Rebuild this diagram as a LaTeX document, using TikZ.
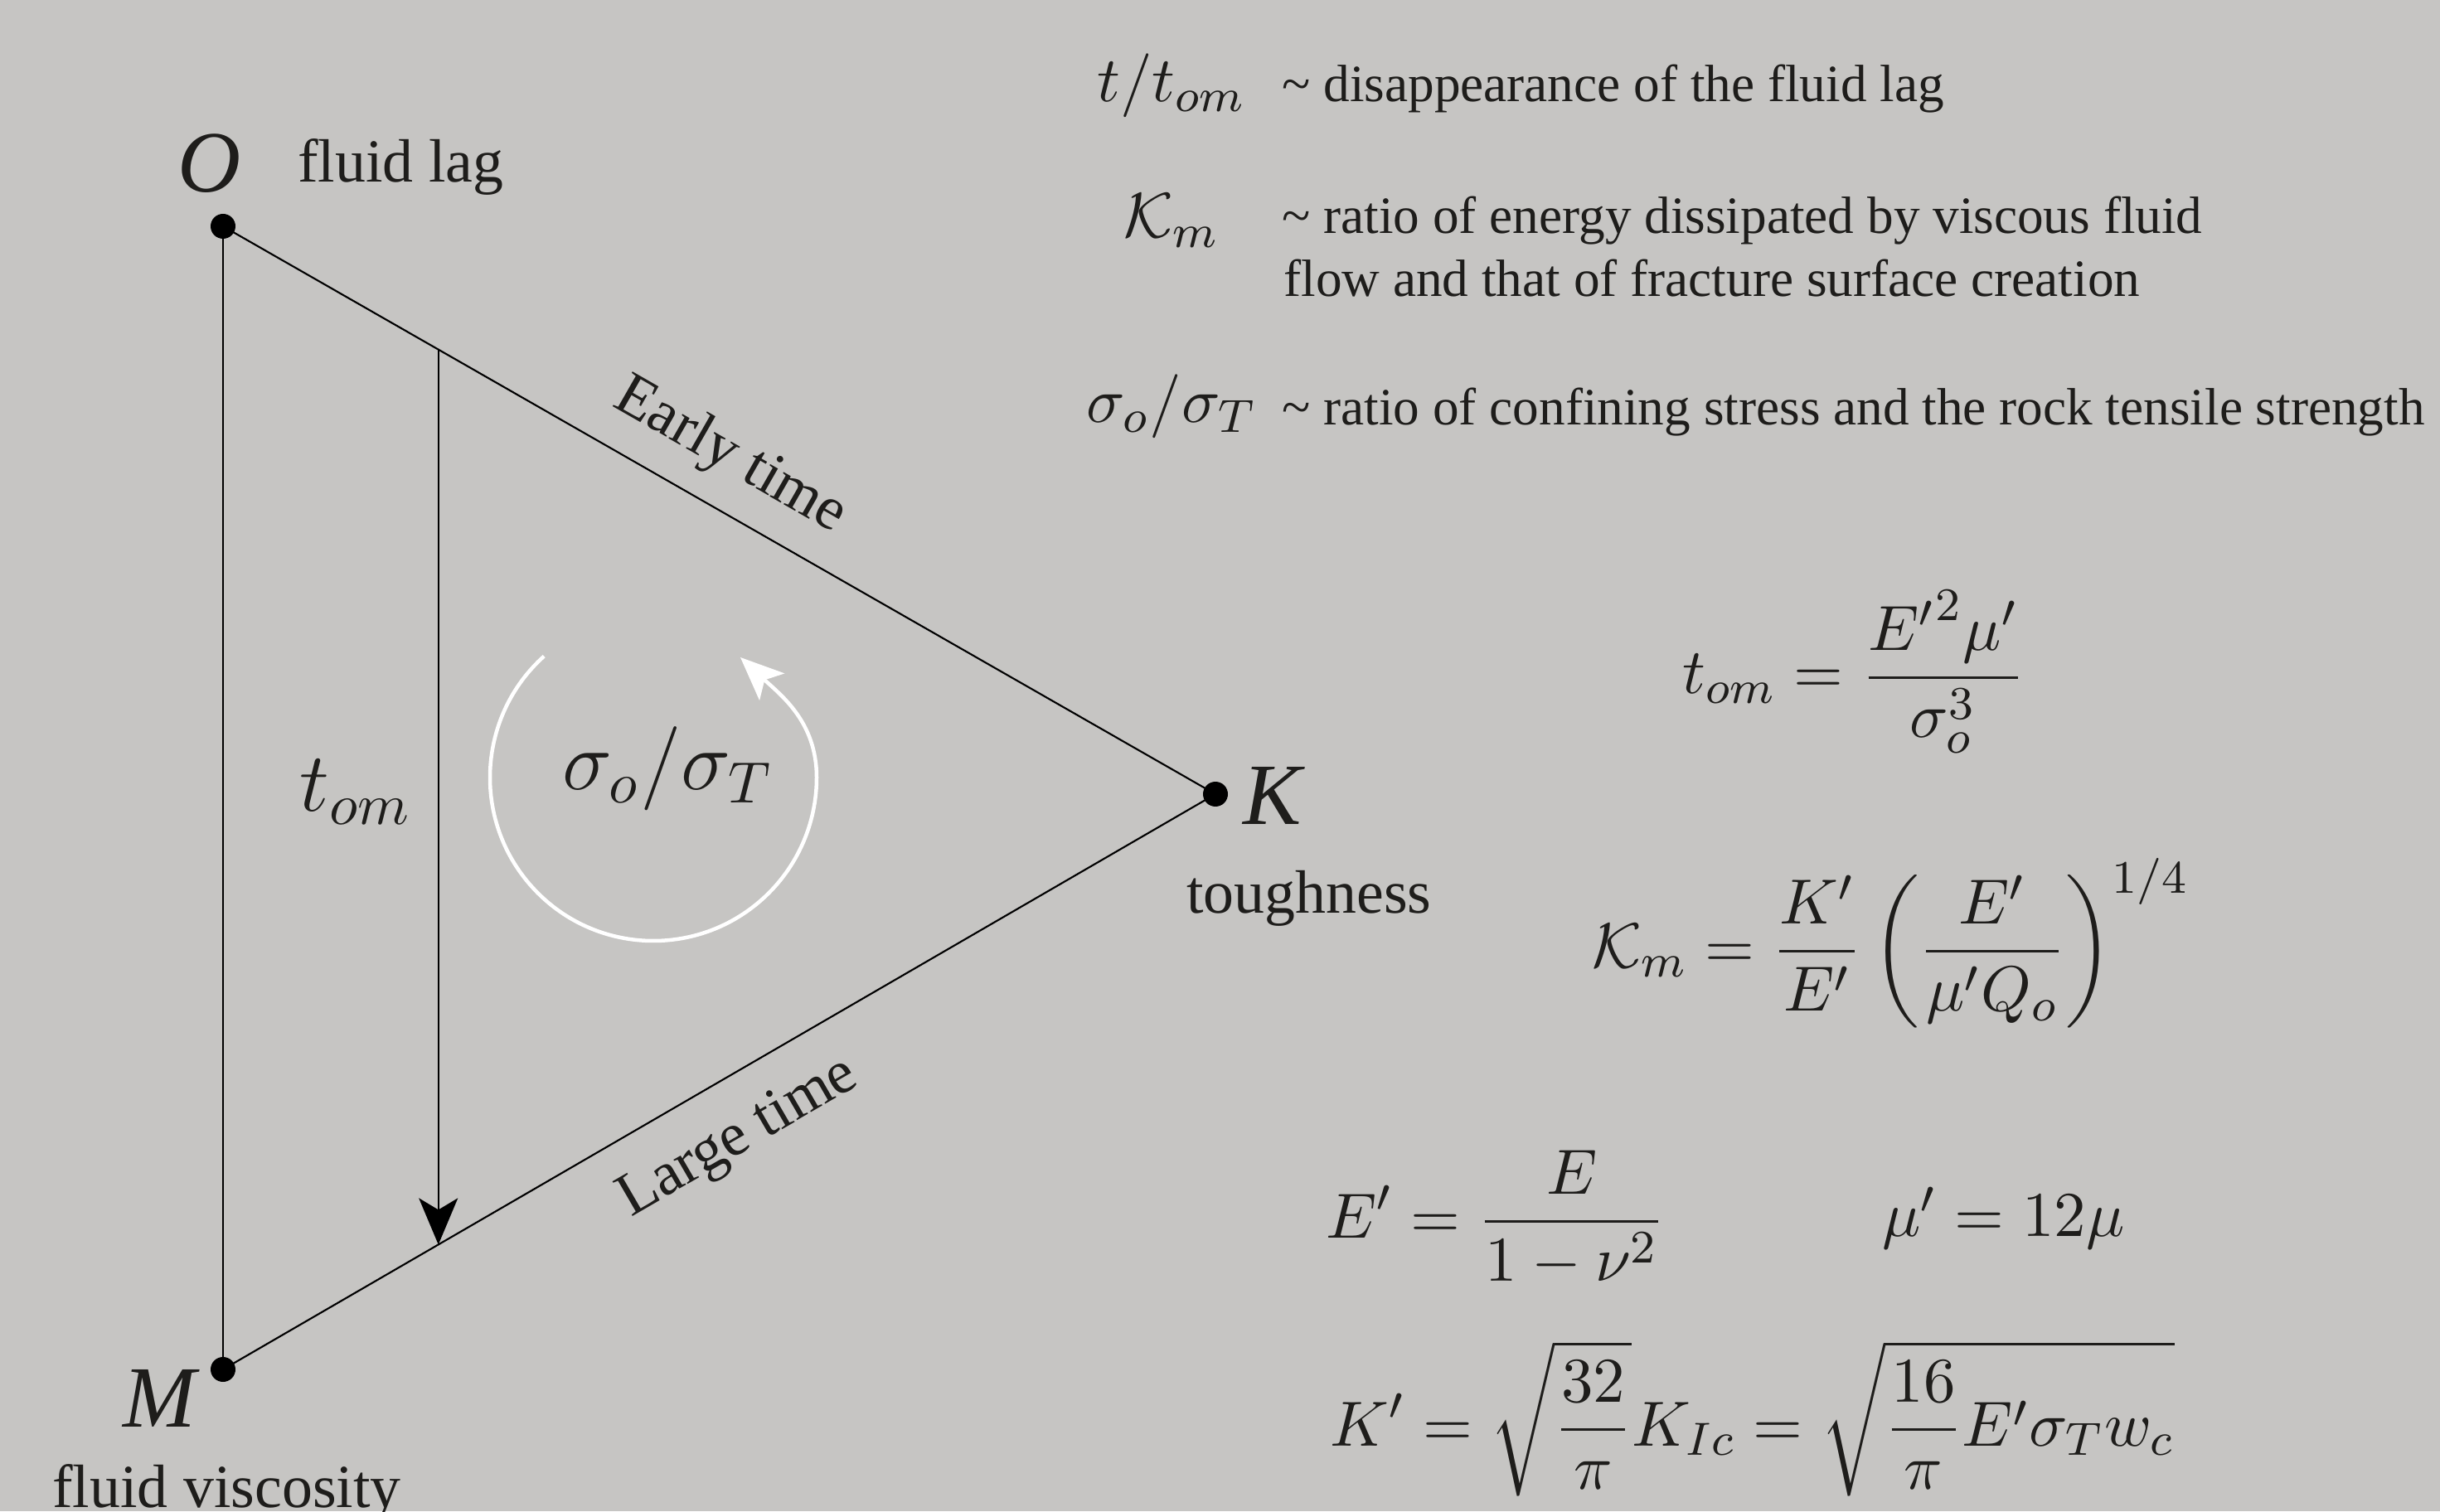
\documentclass[tikz,border=0pt]{standalone}
\usepackage[no-math]{fontspec}
\setmainfont{Liberation Serif}
\usepackage{amsmath}
\usetikzlibrary{calc, arrows.meta}
\definecolor{paperbg}{RGB}{198,197,195}
\definecolor{inkcol}{RGB}{30,29,27}

\begin{document}
\begin{tikzpicture}[
    vertex/.style={
        circle,
        fill=black,
        inner sep=0pt,
        minimum size=0.15cm
    },
    edge/.style={line width=0.3pt},
    corner/.style={inner sep=0pt, text=inkcol, font=\fontsize{15}{18}\selectfont\itshape},
    caption/.style={inner sep=0pt, text=inkcol, font=\fontsize{10.5}{12.6}\selectfont},
    bigmath/.style={inner sep=0pt, text=inkcol, font=\fontsize{14.8}{17}\selectfont},
    symb/.style={inner sep=0pt, text=inkcol, anchor=base, font=\fontsize{11.1}{13}\selectfont},
    desc/.style={inner sep=0pt, text=inkcol, anchor=base west, font=\fontsize{9}{10.8}\selectfont},
    eqn/.style={inner sep=0pt, text=inkcol, anchor=base west, font=\fontsize{11.1}{13}\selectfont}
]

% Paper
\fill[paperbg] (0,0) rectangle (14.715,9.115);
\useasboundingbox (0,0) rectangle (14.715,9.115);

% Triangle corners
\node[vertex] (O) at (1.345,7.75) {};
\node[vertex] (M) at (1.345,0.855) {};
\node[vertex] (K) at (7.33,4.325) {};

\node[corner, anchor=base] (Olab) at (1.265,7.955) {O};
\node[caption, anchor=base west] (lag) at (1.79,8.015) {fluid lag};
\node[corner, anchor=base west] (Klab) at (7.49,4.14) {K};
\node[caption, anchor=base west] (tough) at (7.15,3.61) {toughness};
\node[corner, anchor=base] (Mlab) at (0.96,0.51) {M};
\node[caption, anchor=base west] (visc) at (0.31,0.025) {fluid viscosity};

% Triangle sides
\draw[edge] (O.center) -- (M.center);
\draw[edge] (O.center) -- (K.center)
    node[caption, pos=0.485, sloped, above=0.14cm] {Early time};
\draw[edge] (M.center) -- (K.center)
    node[caption, pos=0.49, sloped, below=0.19cm] {Large time};

% Time arrow
\coordinate (top) at ($(O)!0.217!(K)$);
\coordinate (bot) at ($(M)!0.217!(K)$);
\draw[edge, -{Stealth[length=0.28cm, width=0.235cm, inset=0.07cm]}] (top) -- (bot);
\node[bigmath, anchor=base west] (tomlab) at (1.80,4.22) {$t_{om}$};

% Stress ratio
\node[bigmath, anchor=base west] (ratio) at (3.385,4.35) {$\sigma_o/\sigma_T$};
\draw[white, line width=0.64pt, -{Stealth[length=0.26cm, width=0.22cm, inset=0.06cm]}]
    (3.94,4.425) ++(132:0.985) arc[start angle=132, end angle=360, radius=0.985]
    to[out=90, in=-43] (4.465,5.15);

% Legend
\node[symb] (s1) at (7.065,8.5) {$t/t_{om}$};
\node[desc] (d1) at (7.725,8.5) {\textasciitilde{} disappearance of the fluid lag};
\node[symb] (s2) at (7.065,7.68) {$\mathcal{K}_m$};
\node[desc] (d2) at (7.725,7.705) {\textasciitilde{} ratio of energy dissipated by viscous fluid};
\node[desc] (d2b) at (7.735,7.325) {flow and that of fracture surface creation};
\node[symb] (s3) at (7.065,6.565) {$\sigma_o/\sigma_T$};
\node[desc] (d3) at (7.725,6.55) {\textasciitilde{} ratio of confining stress and the rock tensile strength};

% Formulas
\node[eqn] (ttom) at (10.14,4.93) {$\displaystyle t_{om}=\frac{{E'}^2\mu'}{\sigma_o^3}$};
\node[eqn] (km) at (9.595,3.28) {$\displaystyle \mathcal{K}_m=\frac{K'}{E'}\left(\frac{E'}{\mu' Q_o}\right)^{1/4}$};
\node[eqn] (ep) at (7.99,1.65) {$\displaystyle E'=\frac{E}{1-\nu^2}$};
\node[eqn] (mup) at (11.345,1.66) {$\mu'=12\mu$};
\node[eqn] (kp) at (8.015,0.395) {$\displaystyle K'=\sqrt{\frac{32}{\pi}}K_{Ic}=\sqrt{\frac{16}{\pi}E'\sigma_T w_c}$};

\end{tikzpicture}
\end{document}
